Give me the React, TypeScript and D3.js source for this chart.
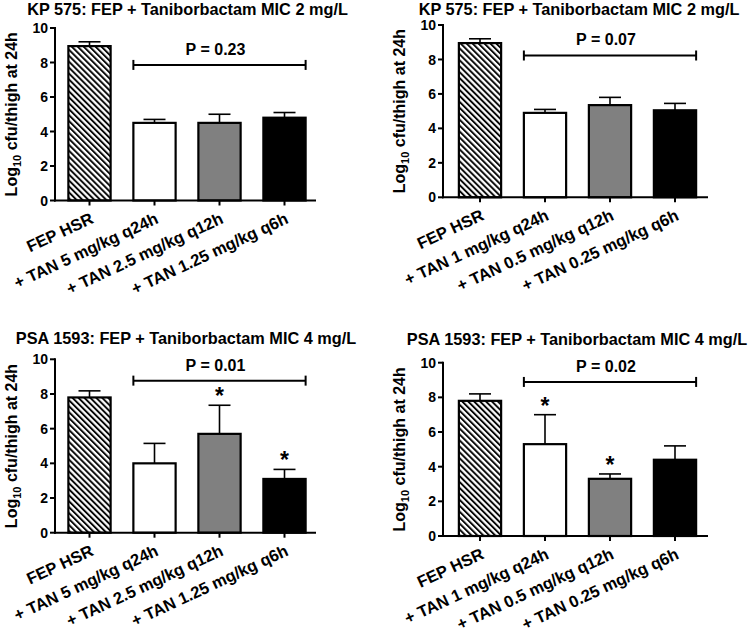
import React from "react";
import * as d3 from "d3";

// ---------- DATA ----------
const titles = [
  "KP 575: FEP + Taniborbactam MIC 2 mg/L",
  "KP 575: FEP + Taniborbactam MIC 2 mg/L",
  "PSA 1593: FEP + Taniborbactam MIC 4 mg/L",
  "PSA 1593: FEP + Taniborbactam MIC 4 mg/L",
];
const categoriesLeft = ["FEP HSR", "+ TAN 5 mg/kg q24h", "+ TAN 2.5 mg/kg q12h", "+ TAN 1.25 mg/kg q6h"];
const categoriesRight = ["FEP HSR", "+ TAN 1 mg/kg q24h", "+ TAN 0.5 mg/kg q12h", "+ TAN 0.25 mg/kg q6h"];

const kpLeftMeans = [8.95, 4.5, 4.5, 4.8];
const kpLeftErrors = [0.25, 0.2, 0.5, 0.3];
const kpRightMeans = [8.95, 4.9, 5.35, 5.05];
const kpRightErrors = [0.25, 0.2, 0.45, 0.4];
const psaLeftMeans = [7.8, 4.0, 5.7, 3.1];
const psaLeftErrors = [0.38, 1.15, 1.65, 0.55];
const psaRightMeans = [7.8, 5.3, 3.3, 4.4];
const psaRightErrors = [0.4, 1.7, 0.28, 0.8];

const pLabels = ["P = 0.23", "P = 0.07", "P = 0.01", "P = 0.02"];
const starsKpLeft = [false, false, false, false];
const starsKpRight = [false, false, false, false];
const starsPsaLeft = [false, false, true, true];
const starsPsaRight = [false, true, true, false];

const yTicks = [0, 2, 4, 6, 8, 10];

// ---------- LAYOUT ----------
const FONT = "'Liberation Sans', Arial, Helvetica, sans-serif";
const fills = ["url(#hatch)", "#ffffff", "#808080", "#000000"];

type Panel = {
  title: string;
  cats: string[];
  means: number[];
  errs: number[];
  stars: boolean[];
  p: string;
  x0: number;
  yTop: number;
  yBottom: number;
  bandStart: number;
  axisLen: number;
  titleX: number;
  titleY: number;
  bracketLevel: number;
};

const panels: Panel[] = [
  { title: titles[0], cats: categoriesLeft, means: kpLeftMeans, errs: kpLeftErrors, stars: starsKpLeft, p: pLabels[0],
    x0: 55, yTop: 28, yBottom: 200.5, bandStart: 2, axisLen: 261, titleX: 187.5, titleY: 15, bracketLevel: 7.86 },
  { title: titles[1], cats: categoriesRight, means: kpRightMeans, errs: kpRightErrors, stars: starsKpRight, p: pLabels[1],
    x0: 443, yTop: 25, yBottom: 197.3, bandStart: 4.5, axisLen: 265, titleX: 579, titleY: 15, bracketLevel: 8.23 },
  { title: titles[2], cats: categoriesLeft, means: psaLeftMeans, errs: psaLeftErrors, stars: starsPsaLeft, p: pLabels[2],
    x0: 55, yTop: 359.3, yBottom: 532.7, bandStart: 2, axisLen: 261, titleX: 186, titleY: 343.5, bracketLevel: 8.77 },
  { title: titles[3], cats: categoriesRight, means: psaRightMeans, errs: psaRightErrors, stars: starsPsaRight, p: pLabels[3],
    x0: 443, yTop: 362.7, yBottom: 536, bandStart: 4.5, axisLen: 265, titleX: 577, titleY: 345, bracketLevel: 8.89 },
];

function PanelChart({ pn }: { pn: Panel }) {
  const y = d3.scaleLinear().domain([0, 10]).range([pn.yBottom, pn.yTop]);
  const x = d3
    .scaleBand<string>()
    .domain(pn.cats)
    .range([pn.x0 + pn.bandStart, pn.x0 + pn.bandStart + 260])
    .paddingInner(0.35)
    .paddingOuter(0.175);
  const bw = x.bandwidth();
  const capHalf = 11;
  const bx1 = x(pn.cats[1])!;
  const bx2 = x(pn.cats[3])! + bw;
  const by = y(pn.bracketLevel);

  return (
    <g>
      <text x={pn.titleX} y={pn.titleY} textAnchor="middle" fontFamily={FONT} fontWeight="bold" fontSize={16.3} fill="#000">
        {pn.title}
      </text>

      {/* bars */}
      {pn.cats.map((c, i) => {
        const cx = x(c)! + bw / 2;
        const top = y(pn.means[i]);
        const et = y(pn.means[i] + pn.errs[i]);
        return (
          <g key={c}>
            <line x1={cx} x2={cx} y1={top} y2={et} stroke="#000" strokeWidth={1.6} />
            <line x1={cx - capHalf} x2={cx + capHalf} y1={et} y2={et} stroke="#000" strokeWidth={1.6} />
            <rect x={x(c)!} y={top} width={bw} height={pn.yBottom - top} fill={fills[i]} stroke="#000" strokeWidth={2.2} />
            {pn.stars[i] && (
              <text x={cx} y={et - 1} textAnchor="middle" fontFamily={FONT} fontWeight="bold" fontSize={23} fill="#000">
                *
              </text>
            )}
          </g>
        );
      })}

      {/* y axis */}
      <line x1={pn.x0} x2={pn.x0} y1={pn.yTop - 1} y2={pn.yBottom + 1} stroke="#000" strokeWidth={2} />
      {yTicks.map((t) => (
        <g key={t}>
          <line x1={pn.x0 - 5} x2={pn.x0} y1={y(t)} y2={y(t)} stroke="#000" strokeWidth={2} />
          <text x={pn.x0 - 7} y={y(t)} dy="0.36em" textAnchor="end" fontFamily={FONT} fontWeight="bold" fontSize={14} fill="#000">
            {t}
          </text>
        </g>
      ))}
      <text
        transform={`translate(${pn.x0 - 44},${(pn.yTop + pn.yBottom) / 2}) rotate(-90)`}
        textAnchor="middle"
        dy="0.35em"
        fontFamily={FONT}
        fontWeight="bold"
        fontSize={16}
        fill="#000"
      >
        Log<tspan fontSize={11} dy={4}>10</tspan>
        <tspan dy={-4}> cfu/thigh at 24h</tspan>
      </text>

      {/* x axis */}
      <line x1={pn.x0 - 1} x2={pn.x0 + pn.axisLen} y1={pn.yBottom} y2={pn.yBottom} stroke="#000" strokeWidth={2} />
      {pn.cats.map((c) => {
        const cx = x(c)! + bw / 2;
        return (
          <g key={"xt" + c}>
            <line x1={cx} x2={cx} y1={pn.yBottom} y2={pn.yBottom + 5} stroke="#000" strokeWidth={2} />
            <text
              transform={`translate(${cx + 5},${pn.yBottom + 22}) rotate(-25)`}
              textAnchor="end"
              fontFamily={FONT}
              fontWeight="bold"
              fontSize={16.5}
              fill="#000"
            >
              {c}
            </text>
          </g>
        );
      })}

      {/* significance bracket */}
      <line x1={bx1} x2={bx2} y1={by} y2={by} stroke="#000" strokeWidth={2} />
      <line x1={bx1} x2={bx1} y1={by - 5} y2={by + 5} stroke="#000" strokeWidth={2} />
      <line x1={bx2} x2={bx2} y1={by - 5} y2={by + 5} stroke="#000" strokeWidth={2} />
      <text x={(bx1 + bx2) / 2 - 4} y={by - 10} textAnchor="middle" fontFamily={FONT} fontWeight="bold" fontSize={16} fill="#000">
        {pn.p}
      </text>
    </g>
  );
}

export default function App() {
  return (
    <svg width={750} height={630} style={{ position: "absolute", left: 0, top: 0, background: "#fff" }}>
      <defs>
        <pattern id="hatch" patternUnits="userSpaceOnUse" width={4.2} height={4.2} patternTransform="rotate(-45)">
          <rect width={4.2} height={4.2} fill="#fff" />
          <line x1={1} x2={1} y1={0} y2={4.2} stroke="#000" strokeWidth={1.9} />
        </pattern>
      </defs>
      <rect width={750} height={630} fill="#fff" />
      {panels.map((pn, i) => (
        <PanelChart key={i} pn={pn} />
      ))}
    </svg>
  );
}
